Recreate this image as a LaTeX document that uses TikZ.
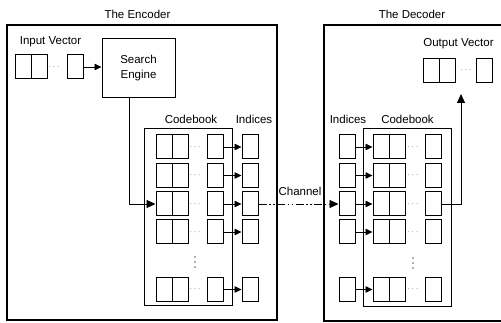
\documentclass[tikz,border=0pt]{standalone}
\usepackage{fontspec}
\setmainfont{Liberation Sans}
\usetikzlibrary{arrows.meta}
\tikzset{
  cell/.style={draw, line width=1pt, minimum width=16pt, minimum height=24pt, inner sep=0pt},
  frame/.style={draw, line width=1.7pt},
  lbl/.style={font=\fontsize{11.5}{15}\selectfont, inner sep=0pt},
  dotsy/.style={font=\small, text=black!70, inner sep=0pt},
  vdot/.style={fill=black!60},
  arr/.style={-{Triangle[length=7pt,width=6.5pt]}, line width=0.8pt},
  bigarr/.style={-{Triangle[length=9pt,width=8pt]}, line width=0.9pt},
}
% a vector: name, left of the double cell, dots, last cell, y
\newcommand{\vecrow}[5]{%
  \node[cell] (#1a) at (#2+8,#5) {};
  \node[cell] (#1b) at (#2+24,#5) {};
  \node[dotsy] (#1d) at (#3,#5) {$\cdots$};
  \node[cell] (#1c) at (#4,#5) {};
}
\begin{document}
\begin{tikzpicture}[x=1pt, y=-1pt]
    \clip (0,0) rectangle (501,323);

    % the encoder
    \node[lbl] (enctitle) at (137.5,14) {The Encoder};
    \draw[frame] (7,25) rectangle (277,320);
    \node[lbl] (inlbl) at (50.5,42) {Input Vector};
    \vecrow{in}{15}{54}{75}{67}
    \node[draw, line width=1pt, minimum width=73pt, minimum height=59pt, align=center, lbl] (search) at (138.5,68.5) {Search\\Engine};
    \draw[arr] (inc.east) -- (inc.east -| search.west);

    \node[lbl] (ecblbl) at (191,119) {Codebook};
    \node[lbl] (eidxlbl) at (254,119) {Indices};
    \draw[line width=0.9pt] (144,128) rectangle (232,305);
    \foreach \r/\y in {1/147, 2/175.5, 3/204, 4/232, 5/289.5} {
        \vecrow{e\r}{156}{195}{215.5}{\y}
        \node[cell] (ei\r) at (250,\y) {};
        \draw[arr] (e\r c) -- (ei\r);
    }
    \foreach \y in {257,262,267} \fill[vdot] (195,\y) circle (0.9);
    \draw[bigarr] ([xshift=-9.5pt]search.south) |- (e3a.west);

    % the decoder
    \node[lbl] (dectitle) at (412,14) {The Decoder};
    \draw[frame] (324,25) rectangle (512,321);
    \node[lbl] (outlbl) at (458.5,44) {Output Vector};
    \vecrow{out}{423}{466}{484.5}{70.5}

    \node[lbl] (dcblbl) at (407.5,119) {Codebook};
    \node[lbl] (didxlbl) at (348,119) {Indices};
    \draw[line width=0.9pt] (363,128) rectangle (451,306);
    \foreach \r/\y in {1/147, 2/175.5, 3/204, 4/232, 5/289.5} {
        \vecrow{d\r}{373}{413}{433.5}{\y}
        \node[cell] (di\r) at (347,\y) {};
        \draw[arr] (di\r) -- (d\r a);
    }
    \foreach \y in {258,263,268} \fill[vdot] (413,\y) circle (0.9);
    \coordinate (outtip) at (461,94);
    \draw[bigarr] (d3c.east) -| (outtip);

    % the channel
    \node[lbl] (chan) at (300,191) {Channel};
    \draw[bigarr, dash pattern=on 8pt off 2.5pt on 1.5pt off 2.5pt on 1.5pt off 2.5pt] (ei3) -- (di3);

\end{tikzpicture}
\end{document}
